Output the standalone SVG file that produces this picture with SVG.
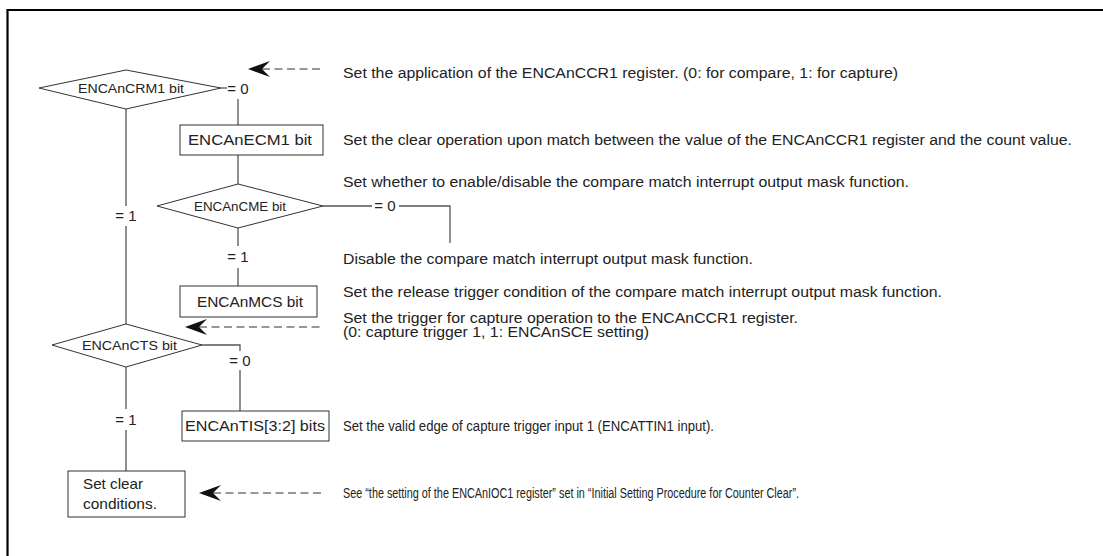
<svg xmlns="http://www.w3.org/2000/svg" width="1103" height="556" viewBox="0 0 1103 556">
<style>
.frame{fill:none;stroke:#000;stroke-width:2.2}
.shape{fill:#fff;stroke:#333;stroke-width:1}
.ln{fill:none;stroke:#555;stroke-width:1.3}
.dash{fill:none;stroke:#333;stroke-width:1.1;stroke-dasharray:8,4.5}
.t{font-family:"Liberation Sans",Arial,sans-serif;fill:#222}
.dt{font-size:12.5px}
.bt{font-size:14.5px}
.rt{font-size:14px}
.lb{font-size:15px}
</style>
<defs>
<path id="ah" d="M0,0 L22,-8 L14,0 L22,8 Z" fill="#111"/>
</defs>
<rect width="1103" height="556" fill="#fff"/>
<path class="frame" d="M7.5,556 V10 H1103"/>
<g id="connectors">
<path class="ln" d="M126,109 V206 M126,226 V324"/>
<path class="ln" d="M221,88 H227"/>
<path class="ln" d="M238,99 V125"/>
<path class="ln" d="M238,155 V184"/>
<path class="ln" d="M323,206 H372 M399,206 H450 V243"/>
<path class="ln" d="M238,228 V246 M238,268 V286"/>
<path class="ln" d="M202,345 H240 V351 M240,370 V411"/>
<path class="ln" d="M126,367 V409 M126,430 V471"/>
<path class="dash" d="M262,69 H322"/>
<use href="#ah" x="248" y="69"/>
<path class="dash" d="M199,327 H322"/>
<use href="#ah" x="185" y="327"/>
<path class="dash" d="M213,493 H322"/>
<use href="#ah" x="199" y="493"/>
<text class="t lb" x="238" y="94" text-anchor="middle">= 0</text>
<text class="t lb" x="126" y="221" text-anchor="middle">= 1</text>
<text class="t lb" x="385" y="211" text-anchor="middle">= 0</text>
<text class="t lb" x="238" y="262" text-anchor="middle">= 1</text>
<text class="t lb" x="240" y="366" text-anchor="middle">= 0</text>
<text class="t lb" x="126" y="425" text-anchor="middle">= 1</text>
</g>
<g id="n-crm1">
<polygon class="shape" points="39,88 126,70 221,88 126,109"/>
<text class="t dt" x="78" y="93" textLength="106" lengthAdjust="spacingAndGlyphs">ENCAnCRM1 bit</text>
</g>
<g id="n-ecm1">
<rect class="shape" x="180" y="125" width="143" height="30"/>
<text class="t bt" x="188" y="145" textLength="124" lengthAdjust="spacingAndGlyphs">ENCAnECM1 bit</text>
</g>
<g id="n-cme">
<polygon class="shape" points="157,206 238,184 323,206 238,228"/>
<text class="t dt" x="194" y="211" textLength="92" lengthAdjust="spacingAndGlyphs">ENCAnCME bit</text>
</g>
<g id="n-mcs">
<rect class="shape" x="180" y="286" width="137" height="31"/>
<text class="t bt" x="197" y="307" textLength="106" lengthAdjust="spacingAndGlyphs">ENCAnMCS bit</text>
</g>
<g id="n-cts">
<polygon class="shape" points="52,345 126,324 202,345 126,367"/>
<text class="t dt" x="82" y="350" textLength="95" lengthAdjust="spacingAndGlyphs">ENCAnCTS bit</text>
</g>
<g id="n-tis">
<rect class="shape" x="182" y="411" width="147" height="30"/>
<text class="t bt" x="185" y="431" textLength="140" lengthAdjust="spacingAndGlyphs">ENCAnTIS[3:2] bits</text>
</g>
<g id="n-clear">
<rect class="shape" x="68" y="471" width="117" height="46"/>
<text class="t bt" x="83" y="489" textLength="60" lengthAdjust="spacingAndGlyphs">Set clear</text>
<text class="t bt" x="83" y="509" textLength="74" lengthAdjust="spacingAndGlyphs">conditions.</text>
</g>
<g id="notes">
<text class="t rt" x="343" y="78" textLength="555" lengthAdjust="spacingAndGlyphs">Set the application of the ENCAnCCR1 register. (0: for compare, 1: for capture)</text>
<text class="t rt" x="343" y="145" textLength="729" lengthAdjust="spacingAndGlyphs">Set the clear operation upon match between the value of the ENCAnCCR1 register and the count value.</text>
<text class="t rt" x="343" y="187" textLength="566" lengthAdjust="spacingAndGlyphs">Set whether to enable/disable the compare match interrupt output mask function.</text>
<text class="t rt" x="343" y="264" textLength="410" lengthAdjust="spacingAndGlyphs">Disable the compare match interrupt output mask function.</text>
<text class="t rt" x="343" y="297" textLength="599" lengthAdjust="spacingAndGlyphs">Set the release trigger condition of the compare match interrupt output mask function.</text>
<text class="t rt" x="343" y="323" textLength="455" lengthAdjust="spacingAndGlyphs">Set the trigger for capture operation to the ENCAnCCR1 register.</text>
<text class="t rt" x="343" y="337" textLength="306" lengthAdjust="spacingAndGlyphs">(0: capture trigger 1, 1: ENCAnSCE setting)</text>
<text class="t rt" x="343" y="431" textLength="371" lengthAdjust="spacingAndGlyphs">Set the valid edge of capture trigger input 1 (ENCATTIN1 input).</text>
<text class="t rt" x="343" y="498" textLength="456" lengthAdjust="spacingAndGlyphs">See “the setting of the ENCAnIOC1 register” set in “Initial Setting Procedure for Counter Clear”.</text>
</g>
</svg>
